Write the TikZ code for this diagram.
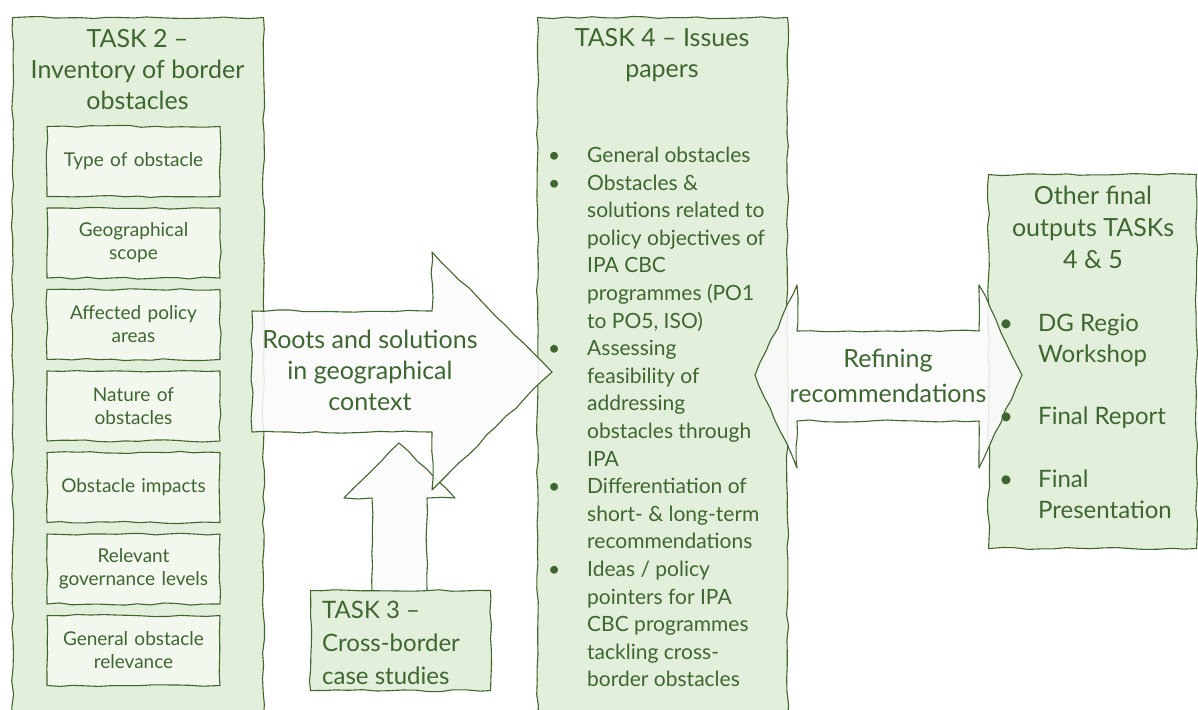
\documentclass[tikz,border=0pt]{standalone}
\usepackage{fontspec}
\setmainfont{Lato}
\usepackage{array}
\usetikzlibrary{decorations.pathmorphing}
\definecolor{ink}{HTML}{3E6630}
\definecolor{edge}{HTML}{41652F}
\definecolor{pale}{HTML}{E2EFDA}
\definecolor{paler}{HTML}{F3F8EF}
\definecolor{arrowfill}{HTML}{FAFBFA}
\newcommand{\fs}[2]{\fontsize{#1}{#2}\selectfont}
\newcolumntype{B}{>{\raggedright\arraybackslash}p{39pt}}
\newcolumntype{T}{>{\raggedright\arraybackslash}p{200pt}}
\newcolumntype{S}{>{\raggedright\arraybackslash}p{160pt}}
\tikzset{
  sketch/.style={draw=edge, line width=1.1pt, line join=round, decorate,
    decoration={random steps, segment length=13pt, amplitude=1.1pt}},
  panel/.style={sketch, fill=pale, anchor=north west, inner sep=0pt},
  itembox/.style={sketch, fill=paler, minimum width=173pt, minimum height=70pt,
    text width=165pt, align=center, inner sep=0pt, text=ink, font=\fs{19}{23}},
  bigarrow/.style={sketch, fill=arrowfill, fill opacity=0.88},
  label/.style={text=ink, inner sep=0pt, align=center},
  outitem/.style={label, align=left, anchor=north west, font=\fs{24}{31.5}},
}
\begin{document}
\begin{tikzpicture}[x=1pt, y=-1pt]
\pgfmathsetseed{7}
\useasboundingbox (0,0) rectangle (1198,709);

% panels
\node[panel, minimum width=251pt, minimum height=700pt] (t2) at (12,17) {};
\node[panel, minimum width=250pt, minimum height=700pt] (t4) at (537,17) {};
\node[panel, minimum width=208pt, minimum height=374pt] (out) at (988,174) {};

% task 2 items
\node[itembox] (i1) at (133.5,161.5) {Type of obstacle};
\node[itembox] (i2) at (133.5,243) {Geographical\\scope};
\node[itembox] (i3) at (133.5,324.5) {Affected policy\\areas};
\node[itembox] (i4) at (133.5,406) {Nature of\\obstacles};
\node[itembox] (i5) at (133.5,487.5) {Obstacle impacts};
\node[itembox] (i6) at (133.5,569) {Relevant\\governance levels};
\node[itembox] (i7) at (133.5,650.5) {General obstacle\\relevance};

% upward arrow from the case studies
\draw[bigarrow] (372,592) -- (372,498) -- (344,498) -- (399,443)
  -- (455,498) -- (427,498) -- (427,592) -- cycle;

% task 3 box
\node[panel, minimum width=180pt, minimum height=100pt] (t3) at (310,590) {};

% roots arrow into task 4
\draw[bigarrow] (252,311) -- (432,311) -- (432,252) -- (552,372)
  -- (432,490) -- (432,432) -- (252,432) -- cycle;

% double arrow between task 4 and final outputs
\draw[bigarrow] (755,375) -- (797,285) -- (797,331) -- (979,331)
  -- (979,285) -- (1022,375) -- (979,468) -- (979,421) -- (797,421)
  -- (797,468) -- cycle;

% titles and labels
\node[label, font=\fs{25}{31}] (t2title) at (137.5,70)
  {TASK 2 --\\Inventory of border\\obstacles};
\node[label, font=\fs{25}{31}] (t4title) at (662,55)
  {TASK 4 -- Issues\\papers};
\node[label, font=\fs{25}{32}] (outtitle) at (1093,227)
  {Other final\\outputs TASKs\\4 \& 5};
\node[label, font=\fs{25}{31}] (roots) at (370,370)
  {Roots and solutions\\in geographical\\context};
\node[label, font=\fs{25}{35}] (refine) at (888,376)
  {Refining\\recommendations};
\node[label, align=left, font=\fs{24}{33}, anchor=north west] (t3text) at (322,601)
  {TASK 3 --\\Cross-border\\case studies};

% task 4 bullet list
\node[label, align=left, anchor=north west, font=\fs{21}{27.6}] (t4list) at (548,143) {%
\begin{tabular}{@{}B@{}T@{}}
\textbullet & General obstacles\\
\textbullet & Obstacles \&\newline solutions related to\newline policy objectives of\newline IPA CBC\newline programmes (PO1\newline to PO5, ISO)\\
\textbullet & Assessing\newline feasibility of\newline addressing\newline obstacles through\newline IPA\\
\textbullet & Differentiation of\newline short- \& long-term\newline recommendations\\
\textbullet & Ideas / policy\newline pointers for IPA\newline CBC programmes\newline tackling cross-\newline border obstacles
\end{tabular}};

% final outputs bullet list
\node[outitem] (o1) at (999,309) {%
\begin{tabular}{@{}B@{}S@{}}
\textbullet & DG Regio\newline Workshop
\end{tabular}};
\node[outitem] (o2) at (999,402) {%
\begin{tabular}{@{}B@{}S@{}}
\textbullet & Final Report
\end{tabular}};
\node[outitem] (o3) at (999,465) {%
\begin{tabular}{@{}B@{}S@{}}
\textbullet & Final\newline Presentation
\end{tabular}};
\end{tikzpicture}
\end{document}
